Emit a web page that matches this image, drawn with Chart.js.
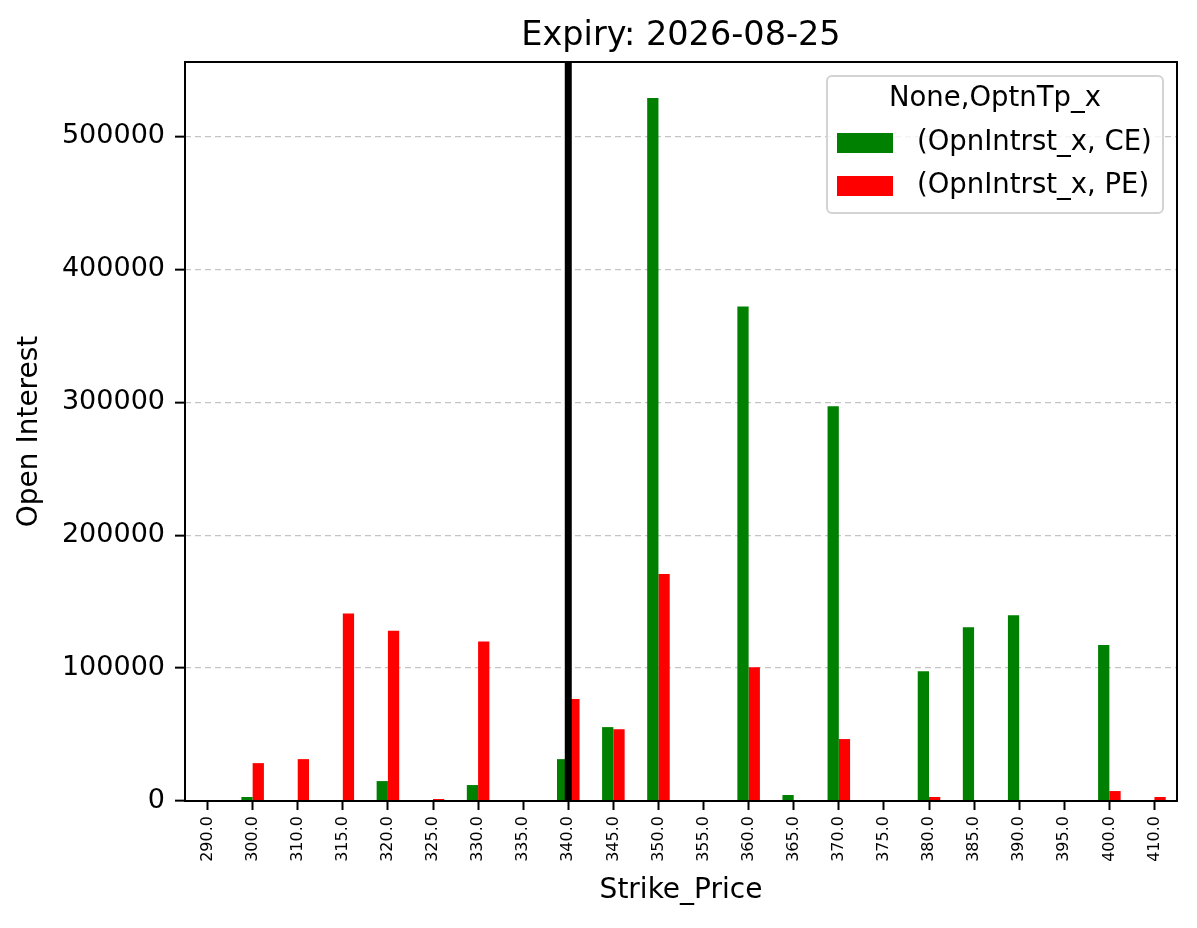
<!DOCTYPE html>
<html>
<head>
<meta charset="utf-8">
<script src="https://cdn.jsdelivr.net/npm/chart.js@4/dist/chart.umd.min.js"></script>
<style>
  body { margin: 0; background: #fff; }
  #wrap { width: 1197px; height: 928px; }
</style>
</head>
<body>
<div id="wrap"><canvas id="oi-chart" width="1197" height="928"></canvas></div>
<script>
// strikes on the x axis
const strikes = ["290.0", "300.0", "310.0", "315.0", "320.0", "325.0", "330.0", "335.0", "340.0", "345.0", "350.0",
  "355.0", "360.0", "365.0", "370.0", "375.0", "380.0", "385.0", "390.0", "395.0", "400.0", "410.0"];

// open interest, calls and puts
const ceOI = [0, 3000, 0, 0, 15000, 0, 12000, 0, 31500, 55600, 529000, 0, 372000, 4500, 297000, 0, 97700, 130800, 139800, 0, 117300, 0];
const peOI = [0, 28500, 31500, 141000, 128000, 1500, 120000, 0, 76700, 54000, 170700, 0, 100700, 0, 46600, 0, 3000, 0, 0, 0, 7500, 3000];

const yTicks = [0, 100000, 200000, 300000, 400000, 500000];
const yMax = 556000;
const markerStrike = "340.0"; // black vertical line
const chartTitle = "Expiry: 2026-08-25";
const legendTitle = "None,OptnTp_x";

const FONT = "'DejaVu Sans', sans-serif";

// title over the plot, frame, vertical marker line and legend box
const extras = {
  id: "extras",
  afterDatasetsDraw(chart) {
    const { ctx, chartArea: a, scales } = chart;
    const x = scales.x.getPixelForValue(strikes.indexOf(markerStrike));
    ctx.save();
    ctx.strokeStyle = "#000";
    ctx.lineWidth = 7;
    ctx.beginPath();
    ctx.moveTo(x, a.top);
    ctx.lineTo(x, a.bottom);
    ctx.stroke();
    ctx.restore();
  },
  afterDraw(chart) {
    const { ctx, chartArea: a } = chart;
    ctx.save();
    ctx.strokeStyle = "#000";
    ctx.lineWidth = 2;
    ctx.strokeRect(a.left, a.top, a.right - a.left, a.bottom - a.top);

    ctx.fillStyle = "#000";
    ctx.font = "33.5px " + FONT;
    ctx.textAlign = "center";
    ctx.textBaseline = "alphabetic";
    ctx.fillText(chartTitle, (a.left + a.right) / 2, 45);

    // legend
    const bx = a.right - 350, by = a.top + 14, bw = 336, bh = 137;
    ctx.fillStyle = "rgba(255,255,255,0.8)";
    ctx.strokeStyle = "#d3d3d3";
    ctx.lineWidth = 2;
    ctx.beginPath();
    ctx.roundRect(bx, by, bw, bh, 5);
    ctx.fill();
    ctx.stroke();

    ctx.fillStyle = "#000";
    ctx.font = "27.5px " + FONT;
    ctx.textAlign = "center";
    ctx.textBaseline = "middle";
    ctx.fillText(legendTitle, bx + bw / 2, by + 23);

    ctx.textAlign = "left";
    chart.data.datasets.forEach((ds, i) => {
      const ry = by + 67 + i * 43;
      ctx.fillStyle = ds.backgroundColor;
      ctx.fillRect(bx + 10, ry - 10, 56, 20);
      ctx.fillStyle = "#000";
      ctx.fillText(ds.label, bx + 90, ry);
    });
    ctx.restore();
  }
};

new Chart(document.getElementById("oi-chart"), {
  type: "bar",
  data: {
    labels: strikes,
    datasets: [
      { label: "(OpnIntrst_x, CE)", data: ceOI, backgroundColor: "#008000" },
      { label: "(OpnIntrst_x, PE)", data: peOI, backgroundColor: "#ff0000" }
    ]
  },
  options: {
    responsive: false,
    devicePixelRatio: 1,
    animation: false,
    categoryPercentage: 0.5,
    barPercentage: 1.0,
    layout: { padding: { left: 0, right: 20, top: 62, bottom: 0 } },
    plugins: {
      legend: { display: false },
      tooltip: { enabled: false },
      title: { display: false }
    },
    scales: {
      x: {
        offset: true,
        grid: { offset: false, drawOnChartArea: false, drawTicks: true, tickLength: 9, tickColor: "#000", tickWidth: 2 },
        border: { display: false },
        ticks: {
          color: "#000",
          font: { family: FONT, size: 16 },
          minRotation: 90,
          maxRotation: 90,
          autoSkip: false,
          padding: 6
        },
        title: {
          display: true,
          text: "Strike_Price",
          color: "#000",
          font: { family: FONT, size: 28 },
          padding: { top: 0, bottom: 20 }
        },
        afterFit(scale) { scale.height = 127; }
      },
      y: {
        min: 0,
        max: yMax,
        grid: {
          color: "#c4c4c4",
          lineWidth: 1.3,
          tickLength: 10,
          tickColor: "#000",
          tickWidth: 2,
          tickBorderDash: []
        },
        border: { display: false, dash: [6, 4] },
        ticks: {
          color: "#000",
          font: { family: FONT, size: 27 },
          padding: 10,
          callback: (v) => String(v)
        },
        afterBuildTicks(scale) { scale.ticks = yTicks.map((v) => ({ value: v })); },
        title: {
          display: true,
          text: "Open Interest",
          color: "#000",
          font: { family: FONT, size: 28 },
          padding: { top: 13, bottom: 0 }
        },
        afterFit(scale) { scale.width = 185; }
      }
    }
  },
  plugins: [extras]
});
</script>
</body>
</html>
